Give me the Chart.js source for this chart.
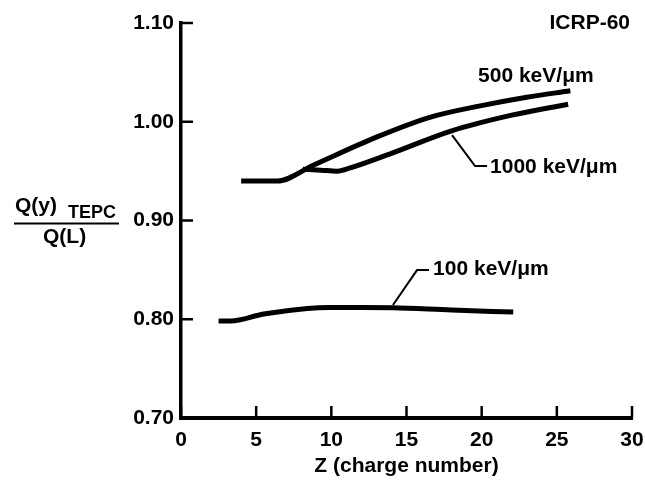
<!DOCTYPE html>
<html>
<head>
<meta charset="utf-8">
<script src="https://cdn.jsdelivr.net/npm/chart.js@4.4.1/dist/chart.umd.min.js"></script>
<style>
  html, body { margin: 0; padding: 0; background: #fff; }
  #wrap { width: 645px; height: 483px; position: relative; }
</style>
</head>
<body>
<div id="wrap"><canvas id="chart"></canvas></div>
<script>
// Z values and Q(y)TEPC / Q(L) ratios
const z100 = [2.5, 3.3, 5.5, 8.4, 9.9, 12, 14.1, 18, 22.1];
const q100 = [0.7982, 0.7982, 0.8053, 0.811, 0.812, 0.812, 0.8116, 0.8093, 0.8073];

const z500 = [4, 6.4, 8.8, 13, 16.6, 19.9, 23, 25.9];
const q500 = [0.9399, 0.9399, 0.956, 0.9844, 1.0047, 1.0161, 1.0249, 1.0313];

const z1000 = [8.1, 9.3, 10.4, 11.2, 14, 18, 22, 25.75];
const q1000 = [0.952, 0.951, 0.950, 0.953, 0.968, 0.9908, 1.0067, 1.0178];

const xTicks = [0, 5, 10, 15, 20, 25, 30];
const yTicks = [0.70, 0.80, 0.90, 1.00, 1.10];

// curve labels: leader start on curve, elbow, leader end, text baseline start (data units)
const curveLabels = [
  { text: '100 keV/\u03bcm', from: [14.1, 0.8144], elbow: [15.7, 0.8498], end: [16.5, 0.8498], at: [16.77, 0.8447] },
  { text: '1000 keV/\u03bcm', from: [18.03, 0.9864], elbow: [19.56, 0.9551], end: [20.36, 0.9551], at: [20.56, 0.948] },
  { text: '500 keV/\u03bcm', from: null, elbow: null, end: null, at: [19.76, 1.0401] },
];

const FONT = '"Liberation Sans", Arial, Helvetica, sans-serif';

function toPoints(xs, ys) {
  return xs.map((x, i) => ({ x, y: ys[i] }));
}

function curve(data) {
  return {
    data,
    showLine: true,
    borderColor: '#000',
    borderWidth: 5,
    pointRadius: 0,
    cubicInterpolationMode: 'monotone',
    borderCapStyle: 'butt',
    fill: false,
  };
}

const decorPlugin = {
  id: 'decor',
  afterDraw(chart) {
    const { ctx, chartArea } = chart;
    const xs = chart.scales.x;
    const ys = chart.scales.y;
    const px = (p) => xs.getPixelForValue(p[0]);
    const py = (p) => ys.getPixelForValue(p[1]);
    ctx.save();
    ctx.strokeStyle = '#000';
    ctx.fillStyle = '#000';

    // inward tick marks
    ctx.lineWidth = 2.5;
    xTicks.forEach((t) => {
      const x = xs.getPixelForValue(t);
      ctx.beginPath();
      ctx.moveTo(x, chartArea.bottom);
      ctx.lineTo(x, chartArea.bottom - 12);
      ctx.stroke();
    });
    yTicks.forEach((t) => {
      const y = ys.getPixelForValue(t);
      ctx.beginPath();
      ctx.moveTo(chartArea.left, y);
      ctx.lineTo(chartArea.left + 12, y);
      ctx.stroke();
    });

    // leader lines and curve labels
    ctx.font = `bold 21px ${FONT}`;
    ctx.textBaseline = 'alphabetic';
    ctx.textAlign = 'left';
    curveLabels.forEach((lab) => {
      if (lab.from) {
        ctx.lineWidth = 2;
        ctx.beginPath();
        ctx.moveTo(px(lab.from), py(lab.from));
        ctx.lineTo(px(lab.elbow), py(lab.elbow));
        ctx.lineTo(px(lab.end), py(lab.end));
        ctx.stroke();
      }
      ctx.fillText(lab.text, px(lab.at), py(lab.at));
    });

    // corner tag
    ctx.textAlign = 'right';
    ctx.fillText('ICRP-60', 630, 29);

    // y axis title as a fraction
    ctx.textAlign = 'left';
    ctx.font = `bold 21px ${FONT}`;
    ctx.fillText('Q(y)', 15, 212);
    ctx.fillText('Q(L)', 43, 243);
    ctx.font = `bold 18px ${FONT}`;
    ctx.fillText('TEPC', 68, 218);
    ctx.lineWidth = 2;
    ctx.beginPath();
    ctx.moveTo(14, 223.5);
    ctx.lineTo(119, 223.5);
    ctx.stroke();

    ctx.restore();
  },
};

new Chart(document.getElementById('chart'), {
  type: 'scatter',
  data: {
    datasets: [
      curve(toPoints(z100, q100)),
      curve(toPoints(z500, q500)),
      curve(toPoints(z1000, q1000)),
    ],
  },
  options: {
    responsive: true,
    maintainAspectRatio: false,
    animation: false,
    layout: { padding: { top: 23, right: 13, left: 0, bottom: 0 } },
    plugins: { legend: { display: false }, tooltip: { enabled: false } },
    scales: {
      x: {
        type: 'linear',
        min: 0,
        max: 30,
        afterBuildTicks: (scale) => { scale.ticks = xTicks.map((v) => ({ value: v })); },
        afterFit: (scale) => {
          scale.height = 65;
          scale.paddingLeft = 0;
          scale.paddingRight = 0;
        },
        border: { display: true, width: 4, color: '#000' },
        grid: { drawOnChartArea: false, drawTicks: false },
        ticks: {
          color: '#000',
          font: { family: FONT, size: 21, weight: 'bold' },
          padding: 10,
          maxRotation: 0,
          callback: (v) => String(v),
        },
        title: {
          display: true,
          text: 'Z (charge number)',
          color: '#000',
          font: { family: FONT, size: 21, weight: 'bold' },
          padding: { top: 0, bottom: 4 },
        },
      },
      y: {
        type: 'linear',
        min: 0.7,
        max: 1.1,
        afterBuildTicks: (scale) => { scale.ticks = yTicks.map((v) => ({ value: v })); },
        afterFit: (scale) => {
          scale.width = 181;
          scale.paddingTop = 0;
          scale.paddingBottom = 0;
        },
        border: { display: true, width: 3.5, color: '#000' },
        grid: { drawOnChartArea: false, drawTicks: false },
        ticks: {
          color: '#000',
          font: { family: FONT, size: 21, weight: 'bold' },
          padding: 7,
          callback: (v) => v.toFixed(2),
        },
      },
    },
  },
  plugins: [decorPlugin],
});
</script>
</body>
</html>
